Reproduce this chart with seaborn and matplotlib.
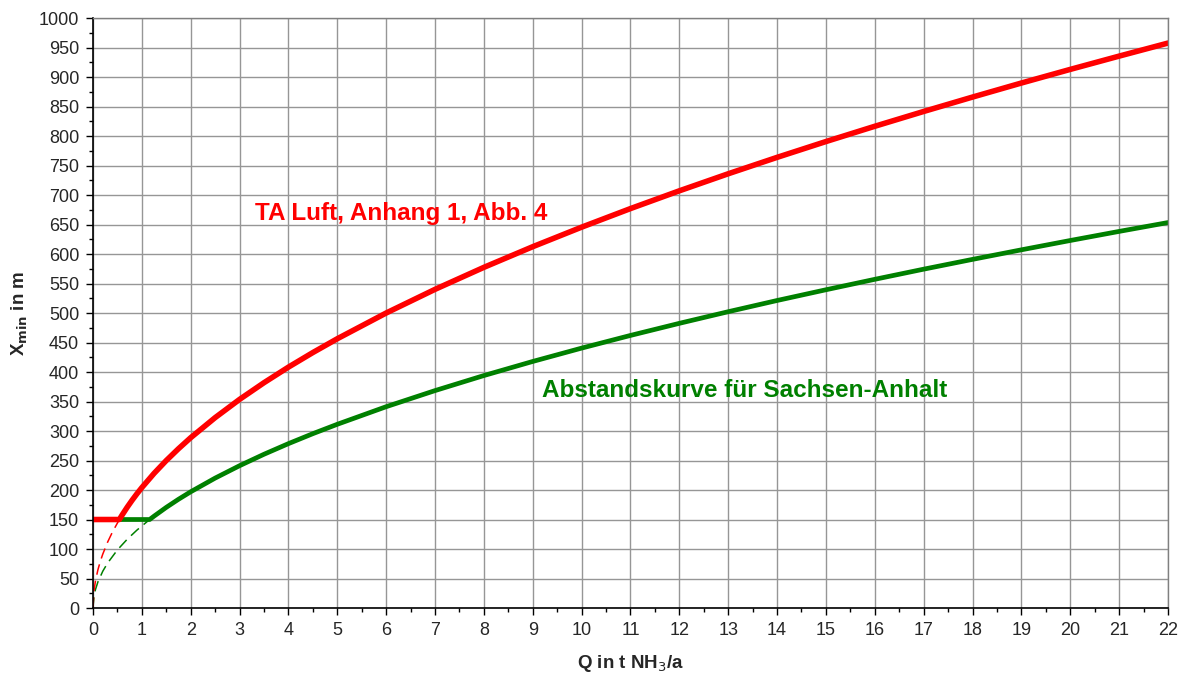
import numpy as np
import pandas as pd
import matplotlib
matplotlib.use('Agg')
import matplotlib.pyplot as plt
import seaborn as sns
from matplotlib.ticker import MultipleLocator

# TA Luft curve (red), solid part incl. 150 m floor
q_red = [0, 0.54, 0.6, 0.7, 0.8, 0.9, 1.0, 1.25, 1.5, 1.75, 2, 2.5, 3, 3.5, 4, 4.5, 5,
         6, 7, 8, 9, 10, 11, 12, 13, 14, 15, 16, 17, 18, 19, 20, 21, 22]
x_red = [150, 150, 158.1, 170.8, 182.6, 193.7, 204.1, 228.2, 250.0, 270.0, 288.7, 322.7,
         353.6, 381.9, 408.3, 433.0, 456.4, 500.0, 540.1, 577.4, 612.4, 645.5, 677.0,
         707.1, 736.0, 763.8, 790.6, 816.5, 841.6, 866.0, 889.8, 912.9, 935.4, 957.5]
# red dashed part below the floor
q_red_dash = [0, 0.02, 0.05, 0.1, 0.15, 0.2, 0.3, 0.4, 0.54]
x_red_dash = [0, 28.9, 45.6, 64.5, 79.1, 91.3, 111.8, 129.1, 150]

# Sachsen-Anhalt curve (green)
q_green = [0, 1.16, 1.25, 1.5, 1.75, 2, 2.5, 3, 3.5, 4, 4.5, 5, 6, 7, 8, 9, 10, 11,
           12, 13, 14, 15, 16, 17, 18, 19, 20, 21, 22]
x_green = [150, 150, 155.7, 170.6, 184.3, 197.0, 220.2, 241.2, 260.6, 278.6, 295.5,
           311.4, 341.2, 368.5, 394.0, 417.9, 440.5, 462.0, 482.5, 502.2, 521.2, 539.4,
           557.1, 574.3, 590.9, 607.1, 622.9, 638.3, 653.3]
q_green_dash = [0, 0.02, 0.05, 0.1, 0.2, 0.3, 0.5, 0.7, 0.9, 1.16]
x_green_dash = [0, 19.7, 31.1, 44.0, 62.3, 76.3, 98.5, 116.5, 132.1, 150]

red = '#ff0000'
green = '#008000'

sns.set_style('white')
plt.rcParams['font.family'] = ['Liberation Sans', 'DejaVu Sans']

fig = plt.figure(figsize=(11.8, 6.77), dpi=100)
ax = fig.add_axes([0.0788, 0.1019, 0.9110, 0.8715])

sns.lineplot(x=q_green_dash, y=x_green_dash, color=green, lw=1.1,
             linestyle=(0, (7, 4)), ax=ax, sort=False)
sns.lineplot(x=q_red_dash, y=x_red_dash, color=red, lw=1.1,
             linestyle=(0, (7, 4)), ax=ax, sort=False)
sns.lineplot(x=q_green, y=x_green, color=green, lw=3.4, ax=ax, sort=False)
sns.lineplot(x=q_red, y=x_red, color=red, lw=4.0, ax=ax, sort=False)

ax.set_xlim(0, 22)
ax.set_ylim(0, 1000)
ax.xaxis.set_major_locator(MultipleLocator(1))
ax.xaxis.set_minor_locator(MultipleLocator(0.5))
ax.yaxis.set_major_locator(MultipleLocator(50))
ax.yaxis.set_minor_locator(MultipleLocator(25))
ax.grid(True, which='major', color='#969696', lw=1.0)
ax.set_axisbelow(True)
ax.tick_params(which='major', direction='out', length=5, width=1, color='black',
               labelsize=13, left=True, bottom=True, pad=5)
ax.tick_params(which='minor', direction='out', length=3, width=1, color='black',
               left=True, bottom=True)
for s in ['left', 'bottom']:
    ax.spines[s].set_color('black')
    ax.spines[s].set_linewidth(1.2)
for s in ['top', 'right']:
    ax.spines[s].set_color('#808080')
    ax.spines[s].set_linewidth(1.0)

ax.set_xlabel('Q in t NH$_3$/a', fontsize=13.5, fontweight='bold', labelpad=10)
ax.set_ylabel('X$_{\\mathbf{min}}$ in m', fontsize=13.5, fontweight='bold', labelpad=6)

ax.text(3.32, 669, 'TA Luft, Anhang 1, Abb. 4', color=red, fontsize=17.5,
        fontweight='bold', va='center', ha='left')
ax.text(9.19, 369, 'Abstandskurve für Sachsen-Anhalt', color=green, fontsize=17.5,
        fontweight='bold', va='center', ha='left')

fig.savefig('out.png', dpi=100)
